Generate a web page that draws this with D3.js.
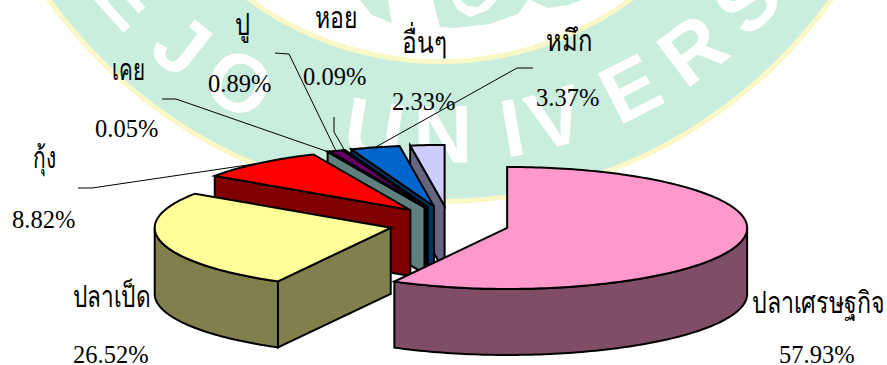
<!DOCTYPE html>
<html>
<head>
<meta charset="utf-8">
<script src="https://cdn.jsdelivr.net/npm/d3@7/dist/d3.min.js"></script>
<style>
  html, body { margin: 0; padding: 0; background: #fff; }
  svg { display: block; }
  text { font-family: "Liberation Serif", "Noto Sans", serif; fill: #000; }
</style>
</head>
<body>
<svg id="chart" width="887" height="365"></svg>
<script>
// Share of catch by group, in percent, clockwise from twelve o'clock.
const categories = ["ปลาเศรษฐกิจ", "ปลาเป็ด", "กุ้ง", "เคย", "ปู", "หอย", "หมึก", "อื่นๆ"];
const shares = [57.93, 26.52, 8.82, 0.05, 0.89, 0.09, 3.37, 2.33];
const topColors = ["#FF99CC", "#FFFF99", "#FF0000", "#99CCCC", "#660066", "#333333", "#0066CC", "#CCCCFF"];
const wallColors = ["#804D66", "#80804D", "#800000", "#608080", "#330033", "#1A1A1A", "#003366", "#666680"];

// Seal letters behind the chart: glyph and angle from straight down, in degrees.
const sealLetters = ["E", "J", "O", "U", "N", "I", "V", "E", "R", "S"];
const sealAngles = [-48, -38, -28.6, -9, 0.4, 9.9, 16, 27, 37, 47];

// Label placement: [name x, name baseline, name width, value x, value baseline].
const labelLayout = [
  [752, 313, 133, 779, 363],
  [73, 307, 77, 73, 363],
  [33, 168, 23, 12, 228],
  [112, 80, 33, 95, 137],
  [235, 35, 15, 208, 92],
  [315, 28, 43, 303, 85],
  [546, 51, 46, 536, 106],
  [402, 53, 45, 392, 110]
];
// Leader lines: outer end and elbow, null for slices labelled without one.
const leaderLayout = [null, null, [[78, 188], [92, 188]], [[162, 99], [176, 99]], [[275, 53], [289, 54]],
  [[334, 117], [334, 132]], [[533, 68], [517, 68]], null];

const svg = d3.select("#chart");
const mint = "#C9EEDD", paleYellow = "#FBF8C8";

// Watermark seal: ring, inner emblem and ring lettering
const seal = svg.append("g");
const sealCx = 440, sealCy = -285;
seal.append("ellipse").attr("cx", sealCx).attr("cy", -288).attr("rx", 486).attr("ry", 492).attr("fill", paleYellow);
seal.append("ellipse").attr("cx", sealCx).attr("cy", -288).attr("rx", 481).attr("ry", 487).attr("fill", mint);
seal.append("circle").attr("cx", sealCx).attr("cy", -262).attr("r", 326).attr("fill", paleYellow);
seal.append("circle").attr("cx", sealCx).attr("cy", -262).attr("r", 321).attr("fill", "#FFFFFF");
seal.append("path").attr("fill", mint)
  .attr("d", "M360,0 L388,0 L392,23 L372,15 Z M433,0 L528,0 L518,14 L490,24 L455,28 L440,27 Z M530,0 L582,0 L568,5 L548,8 Z");
seal.append("path").attr("fill", "#fff")
  .attr("d", "M452,0 L497,0 L488,10 L470,17 L458,10 Z");
seal.append("path").attr("fill", mint)
  .attr("d", "M460,0 L486,0 L478,7 L467,6 Z");
seal.selectAll("text.letter").data(sealLetters).join("text")
  .attr("class", "letter")
  .attr("text-anchor", "middle")
  .attr("dy", "0.36em")
  .attr("transform", (d, i) => {
    const a = sealAngles[i] * Math.PI / 180;
    return `translate(${sealCx + 418 * Math.sin(a)},${sealCy + 418 * Math.cos(a)}) rotate(${-sealAngles[i]})`;
  })
  .style("font-family", "'Liberation Sans'")
  .style("font-weight", "700")
  .style("font-size", "82px")
  .style("fill", "#fff")
  .text(d => d);

// Projected pie geometry
const center = { x: 449, y: 223.6 };
const radiusRight = 240, radiusLeft = 236, radiusY = 61, depth = 66;
const explodeX = 60, explodeY = 17.7;

const pie = d3.pie().sort(null).value(d => d);
const arcs = pie(shares).map((a, i) => {
  const mid = (a.startAngle + a.endAngle) / 2;
  return {
    ...a, index: i, mid,
    cx: center.x + explodeX * Math.sin(mid),
    cy: center.y - explodeY * Math.cos(mid)
  };
});

const rim = (s, t) => {
  const sin = Math.sin(t);
  return [s.cx + (sin < 0 ? radiusLeft : radiusRight) * sin, s.cy - radiusY * Math.cos(t)];
};
const sample = (s, t0, t1) => {
  const n = Math.max(2, Math.ceil((t1 - t0) / 0.02));
  return d3.range(n + 1).map(k => rim(s, t0 + (t1 - t0) * k / n));
};
const line = d3.line();
const drop = pts => pts.map(([x, y]) => [x, y + depth]).reverse();

const pieG = svg.append("g")
  .attr("stroke", "#000").attr("stroke-width", 2).attr("stroke-linejoin", "miter");

// Back slices first, ending with the largest slice in front.
arcs.slice().reverse().forEach(s => {
  const i = s.index;
  const apex = [s.cx, s.cy];
  const a0 = rim(s, s.startAngle);

  // Radial cut face on the clockwise-leading edge, seen only for slices on the left.
  if (Math.sin(s.startAngle) < 0) {
    const face = [a0, apex, [apex[0], apex[1] + depth], [a0[0], a0[1] + depth]];
    pieG.append("path").attr("d", line(face) + "Z").attr("fill", wallColors[i]);
  }
  // Outer curved wall, the part that faces the viewer.
  const wFrom = Math.max(s.startAngle, Math.PI / 2);
  const wTo = Math.min(s.endAngle, Math.PI * 1.5);
  if (wTo > wFrom) {
    const edge = sample(s, wFrom, wTo);
    pieG.append("path").attr("d", line(edge.concat(drop(edge))) + "Z").attr("fill", wallColors[i]);
  }
  // Top face.
  const top = [apex].concat(sample(s, s.startAngle, s.endAngle));
  pieG.append("path").attr("d", line(top) + "Z").attr("fill", topColors[i]);
});

// Leader lines run to the rim at the middle of each slice.
const leaderG = svg.append("g").attr("fill", "none").attr("stroke", "#000").attr("stroke-width", 1);
arcs.forEach(s => {
  const l = leaderLayout[s.index];
  if (!l) return;
  leaderG.append("path").attr("d", line([l[0], l[1], rim(s, s.mid)]));
});

// Name and percentage labels; Thai names are set tall and condensed to their box.
const valuePx = 24.5, namePx = 30;
const labels = svg.append("g");
categories.forEach((name, i) => {
  const [nx, ny, nw, vx, vy] = labelLayout[i];
  labels.append("text").attr("x", nx).attr("y", ny).style("font-size", namePx + "px")
    .attr("textLength", nw).attr("lengthAdjust", "spacingAndGlyphs").text(name);
  labels.append("text").attr("x", vx).attr("y", vy).style("font-size", valuePx + "px")
    .text(shares[i].toFixed(2) + "%");
});
</script>
</body>
</html>
